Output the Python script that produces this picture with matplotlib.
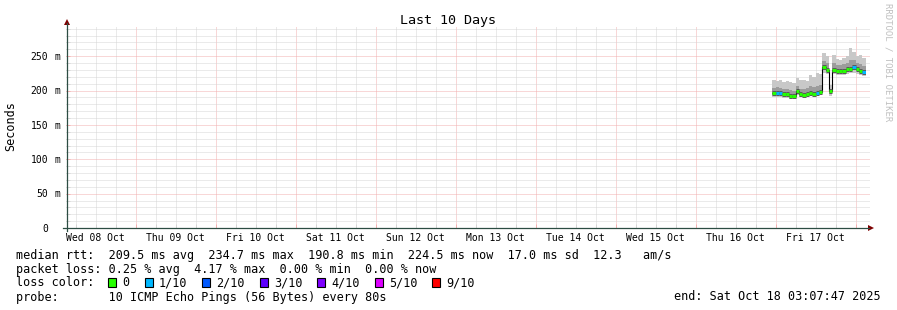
import matplotlib
matplotlib.use("Agg")
import matplotlib.pyplot as plt
import matplotlib.transforms as mtransforms
from matplotlib.lines import Line2D
from matplotlib.patches import Polygon, Rectangle
import numpy as np

# hours relative to Fri 17 Oct 00:00, centres of 1 h bins
hours = [-0.5, 0.5, 1.5, 2.5, 3.5, 4.5, 5.5, 6.5, 7.5, 8.5, 9.5, 10.5, 11.5, 12.5,
         13.5, 14.5, 15.5, 16.5, 17.5, 18.5, 19.5, 20.5, 21.5, 22.5, 23.5, 24.5, 25.5, 26.5]
# round trip times in ms
rtt_median = [196, 197, 196, 195, 195, 192, 192, 199, 195, 193, 195, 196, 195, 197,
              198, 234, 230, 199, 230, 228, 229, 228, 231, 232, 235, 231, 229, 227]
rtt_max = [216, 214, 215, 212, 214, 213, 211, 218, 215, 216, 214, 222, 220, 225,
           224, 254, 250, 208, 252, 246, 244, 248, 250, 262, 256, 250, 252, 248]
rtt_min = [190, 190, 190, 189, 189, 188, 188, 193, 191, 190, 191, 192, 192, 193,
           193, 226, 224, 192, 224, 222, 223, 222, 224, 225, 226, 224, 223, 221]
rtt_hi = [204, 205, 204, 203, 203, 201, 200, 207, 203, 202, 204, 206, 205, 207,
          208, 243, 240, 203, 240, 237, 237, 238, 240, 244, 244, 240, 238, 236]
rtt_lo = [193, 194, 193, 192, 192, 190, 190, 196, 193, 191, 193, 193, 193, 195,
          195, 230, 227, 195, 227, 225, 226, 225, 228, 229, 231, 228, 226, 224]
# lost pings out of 10 per bin
loss = [0, 1, 1, 0, 0, 0, 0, 0, 0, 0, 0, 0, 0, 1,
        0, 0, 0, 0, 0, 0, 0, 0, 0, 0, 1, 0, 0, 1]

loss_labels = ["0", "1/10", "2/10", "3/10", "4/10", "5/10", "9/10"]
loss_steps = [0, 1, 2, 3, 4, 5, 9]
loss_colors = ["#26ff00", "#00b8ff", "#0059ff", "#5e00ff", "#7e00ff", "#dd00ff", "#ff0000"]

day_labels = ["Wed 08 Oct", "Thu 09 Oct", "Fri 10 Oct", "Sat 11 Oct", "Sun 12 Oct",
              "Mon 13 Oct", "Tue 14 Oct", "Wed 15 Oct", "Thu 16 Oct", "Fri 17 Oct"]
y_ticks = [0, 50, 100, 150, 200, 250]

t_end = 27 + 7 / 60 + 47 / 3600  # Sat 18 Oct 03:07:47
t_start = t_end - 240

legend_lines = [
    "median rtt:  209.5 ms avg  234.7 ms max  190.8 ms min  224.5 ms now  17.0 ms sd  12.3   am/s",
    "packet loss: 0.25 % avg  4.17 % max  0.00 % min  0.00 % now",
    "loss color:",
    "probe:       10 ICMP Echo Pings (56 Bytes) every 80s",
]
end_text = "end: Sat Oct 18 03:07:47 2025"

plt.rcParams['font.family'] = ['DejaVu Sans Mono']

W, H = 897, 310
fig = plt.figure(figsize=(W / 100, H / 100), dpi=100)
fig.patch.set_facecolor("white")
L, R, B, T = 66, 866, 228, 26
ax = fig.add_axes([L / W, 1 - B / H, (R - L) / W, (B - T) / H])
ax.set_xlim(t_start, t_end)
ax.set_ylim(0, 294)
for s in ax.spines.values():
    s.set_visible(False)


def fx(x):
    return x / W


def fy(y):
    return 1 - y / H


def off(dx, dy):
    return mtransforms.ScaledTranslation(dx / 100, -dy / 100, fig.dpi_scale_trans)


# dotted grid
dots = (0, (1, 1))
minor_col = "#d6d6d6"
major_col = "#f2b0b0"
for h in np.arange(-216, 28, 6):
    if h < t_start:
        continue
    major = h % 24 == 0
    ax.axvline(h, color=major_col if major else minor_col, lw=0.72, ls=dots, zorder=1)
for v in range(10, 294, 10):
    major = v % 50 == 0
    ax.plot([0, 1.004], [v, v], transform=ax.get_yaxis_transform(), clip_on=False,
            color=major_col if major else minor_col, lw=0.72, ls=dots, zorder=1)

# small ticks on the axes
ax.set_xticks([h for h in range(-192, 28, 24)])
ax.set_xticks([h for h in range(-210, 28, 6) if h % 24 != 0], minor=True)
ax.set_yticks(y_ticks)
ax.set_yticks([v for v in range(10, 294, 10) if v % 50 != 0], minor=True)
ax.tick_params(which="major", color="#f2b0b0", length=3, direction="in", width=0.7,
               labelbottom=False, labelleft=False)
ax.tick_params(which="minor", color="#d6d6d6", length=3, direction="in", width=0.7)

# smoke
edges = np.append(np.array(hours) - 0.5, hours[-1] + 0.5)
ax.stairs(rtt_max, edges, baseline=rtt_min, fill=True, color="#c8c8c8", lw=0, zorder=2)
ax.stairs(rtt_hi, edges, baseline=rtt_lo, fill=True, color="#9c9c9c", lw=0, zorder=3)
ax.stairs(rtt_median, edges, baseline=None, color="#000000", lw=0.8, zorder=4)
ax.hlines(rtt_median, edges[:-1], edges[1:], colors="#5a5a5a", lw=3.6, zorder=4)
med_colors = [loss_colors[loss_steps.index(l)] for l in loss]
ax.hlines(rtt_median, edges[:-1], edges[1:], colors=med_colors, lw=2.2, zorder=5)

# axis lines and arrows
axis_col = "#2c4d43"
arrow_col = "#7f0000"
fig.add_artist(Line2D([fx(67), fx(67)], [fy(231), fy(23)], color=axis_col, lw=0.9))
fig.add_artist(Line2D([fx(63), fx(869)], [fy(228), fy(228)], color=axis_col, lw=0.9))
fig.add_artist(Polygon([[fx(64), fy(25)], [fx(70), fy(25)], [fx(67), fy(19)]],
                       closed=True, color=arrow_col, lw=0))
fig.add_artist(Polygon([[fx(868), fy(225)], [fx(868), fy(231)], [fx(874), fy(228)]],
                       closed=True, color=arrow_col, lw=0))

# x labels centred at noon
xlab_tr = mtransforms.blended_transform_factory(ax.transData, fig.transFigure)
for i, lab in enumerate(day_labels):
    ax.text((i - 9) * 24 + 12, fy(240.7), lab, transform=xlab_tr, ha="center",
            va="baseline", fontsize=7.05, color="#000000")

# y labels
ylab_tr = mtransforms.blended_transform_factory(fig.transFigure, ax.transData) + off(0, 3.6)
for v in y_ticks:
    ax.text(fx(48), v, str(v), transform=ylab_tr, ha="right", va="baseline",
            fontsize=7.05, color="#000000")
    if v != 0:
        ax.text(fx(54), v, "m", transform=ylab_tr, ha="left", va="baseline",
                fontsize=7.05, color="#000000")

fig.text(fx(448), fy(24), "Last 10 Days", ha="center", va="baseline", fontsize=9.6)
fig.text(fx(11), fy(126), "Seconds", rotation=90, ha="center", va="center", fontsize=8.5)
fig.text(fx(887.5), fy(3), "RRDTOOL / TOBI OETIKER", rotation=270, ha="center", va="top",
         fontsize=6.5, color="#c0c0c0")

# legend
cw = 7.1
baselines = [258.5, 272.5, 286.5, 300.5]
for line, yb in zip(legend_lines, baselines):
    fig.text(fx(16), fy(yb), line, ha="left", va="baseline", fontsize=8.5)
fig.text(fx(880.5), fy(300.5), end_text, ha="right", va="baseline", fontsize=8.5)

idx = 13.0
for lab, col in zip(loss_labels, loss_colors):
    x0 = 16 + idx * cw
    fig.add_artist(Rectangle((fx(x0), fy(286.7)), 8 / W, 9 / H, facecolor=col,
                             edgecolor="#000000", lw=0.8))
    fig.text(fx(16 + (idx + 2) * cw), fy(286.5), lab, ha="left", va="baseline", fontsize=8.5)
    idx += len(lab) + 4.1

fig.savefig("out.png", dpi=100, facecolor="white")
